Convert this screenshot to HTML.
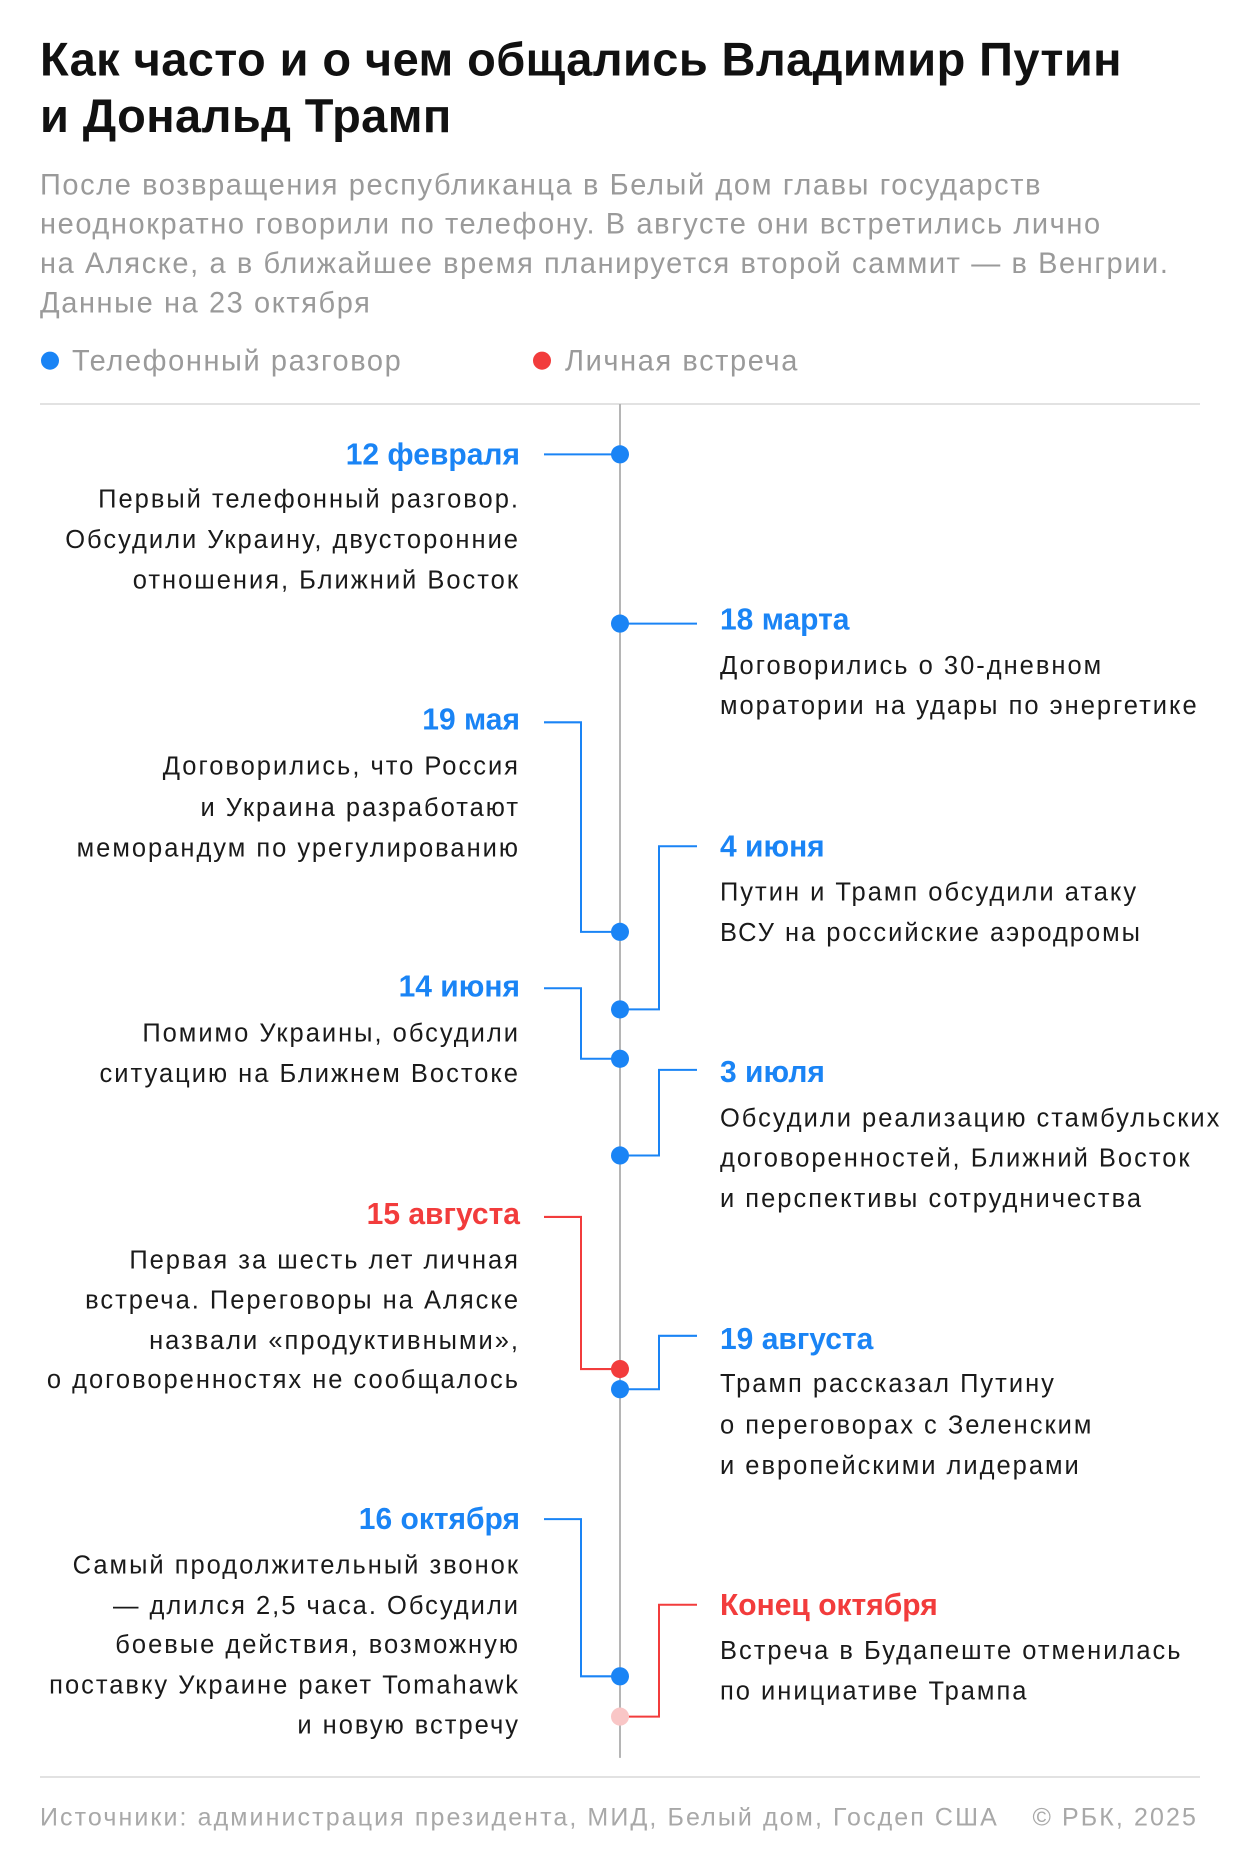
<!DOCTYPE html>
<html><head><meta charset="utf-8"><style>
html,body{margin:0;padding:0;background:#fff}
svg{display:block}
text{font-family:"Liberation Sans",sans-serif}
.t{font-size:47px;font-weight:bold;fill:#111;letter-spacing:0.4px}
.s{font-size:29px;fill:#9a9a9a;letter-spacing:1.6px}
.d{font-size:30px;font-weight:bold;fill:#1a84f5;letter-spacing:0px}
.r{fill:#f23c3c}
.b{font-size:25.5px;fill:#1a1a1a;letter-spacing:2px}
.f{font-size:25px;fill:#a8a8a8;letter-spacing:2.1px}
</style></head><body>
<svg width="1240" height="1866" viewBox="0 0 1240 1866" xmlns="http://www.w3.org/2000/svg">
<g transform="matrix(1 0 0 1.0074 0 0)">
<text class="t" x="40" y="75">Как часто и о чем общались Владимир Путин</text>
<text class="t" x="40" y="131">и Дональд Трамп</text>
<text class="s" x="40" y="193">После возвращения республиканца в Белый дом главы государств</text>
<text class="s" x="40" y="232">неоднократно говорили по телефону. В августе они встретились лично</text>
<text class="s" x="40" y="271">на Аляске, а в ближайшее время планируется второй саммит — в Венгрии.</text>
<text class="s" x="40" y="310">Данные на 23 октября</text>
<circle cx="50" cy="358" r="9" fill="#1a84f5"/>
<text class="s" x="72" y="368">Телефонный разговор</text>
<circle cx="542" cy="358" r="9" fill="#f23c3c"/>
<text class="s" x="565" y="368">Личная встреча</text>
<line x1="40" y1="401" x2="1200" y2="401" stroke="#e2e2e2" stroke-width="2"/>
<line x1="620" y1="401" x2="620" y2="1745" stroke="#b5b5b5" stroke-width="2"/>
<line x1="40" y1="1764" x2="1200" y2="1764" stroke="#e2e2e2" stroke-width="2"/>

<g fill="none" stroke-width="2">
<polyline stroke="#1a84f5" points="544,451 620,451"/>
<polyline stroke="#1a84f5" points="697,619 620,619"/>
<polyline stroke="#1a84f5" points="544,717 581,717 581,925 620,925"/>
<polyline stroke="#1a84f5" points="697,840 659,840 659,1002 620,1002"/>
<polyline stroke="#1a84f5" points="544,981 581,981 581,1051 620,1051"/>
<polyline stroke="#1a84f5" points="697,1062 659,1062 659,1147 620,1147"/>
<polyline stroke="#f23c3c" points="544,1208 581,1208 581,1359 620,1359"/>
<polyline stroke="#1a84f5" points="697,1326 659,1326 659,1379 620,1379"/>
<polyline stroke="#1a84f5" points="544,1508 581,1508 581,1664 620,1664"/>
<polyline stroke="#f23c3c" points="697,1593 659,1593 659,1704 620,1704"/>
</g>
<g fill="#1a84f5">
<circle cx="620" cy="451" r="9"/><circle cx="620" cy="619" r="9"/><circle cx="620" cy="925" r="9"/>
<circle cx="620" cy="1002" r="9"/><circle cx="620" cy="1051" r="9"/><circle cx="620" cy="1147" r="9"/>
<circle cx="620" cy="1379" r="9"/><circle cx="620" cy="1664" r="9"/>
</g>
<circle cx="620" cy="1359" r="9" fill="#f23c3c"/>
<circle cx="620" cy="1704" r="9" fill="#f9c6c6"/>

<g text-anchor="end">
<text class="d" x="520" y="461">12 февраля</text>
<text class="b" x="520" y="504">Первый телефонный разговор.</text>
<text class="b" x="520" y="544">Обсудили Украину, двусторонние</text>
<text class="b" x="520" y="584">отношения, Ближний Восток</text>

<text class="d" x="520" y="724">19 мая</text>
<text class="b" x="520" y="769">Договорились, что Россия</text>
<text class="b" x="520" y="810">и Украина разработают</text>
<text class="b" x="520" y="850">меморандум по урегулированию</text>

<text class="d" x="520" y="989">14 июня</text>
<text class="b" x="520" y="1034">Помимо Украины, обсудили</text>
<text class="b" x="520" y="1074">ситуацию на Ближнем Востоке</text>

<text class="d r" x="520" y="1215">15 августа</text>
<text class="b" x="520" y="1259">Первая за шесть лет личная</text>
<text class="b" x="520" y="1299">встреча. Переговоры на Аляске</text>
<text class="b" x="520" y="1339">назвали «продуктивными»,</text>
<text class="b" x="520" y="1378">о договоренностях не сообщалось</text>

<text class="d" x="520" y="1518">16 октября</text>
<text class="b" x="520" y="1562">Самый продолжительный звонок</text>
<text class="b" x="520" y="1602">— длился 2,5 часа. Обсудили</text>
<text class="b" x="520" y="1641">боевые действия, возможную</text>
<text class="b" x="520" y="1681">поставку Украине ракет Tomahawk</text>
<text class="b" x="520" y="1721">и новую встречу</text>
</g>

<text class="d" x="720" y="625">18 марта</text>
<text class="b" x="720" y="669">Договорились о 30-дневном</text>
<text class="b" x="720" y="709">моратории на удары по энергетике</text>

<text class="d" x="720" y="850">4 июня</text>
<text class="b" x="720" y="894">Путин и Трамп обсудили атаку</text>
<text class="b" x="720" y="934">ВСУ на российские аэродромы</text>

<text class="d" x="720" y="1074">3 июля</text>
<text class="b" x="720" y="1118">Обсудили реализацию стамбульских</text>
<text class="b" x="720" y="1158">договоренностей, Ближний Восток</text>
<text class="b" x="720" y="1198">и перспективы сотрудничества</text>

<text class="d" x="720" y="1339">19 августа</text>
<text class="b" x="720" y="1382">Трамп рассказал Путину</text>
<text class="b" x="720" y="1423">о переговорах с Зеленским</text>
<text class="b" x="720" y="1463">и европейскими лидерами</text>

<text class="d r" x="720" y="1603">Конец октября</text>
<text class="b" x="720" y="1647">Встреча в Будапеште отменилась</text>
<text class="b" x="720" y="1687">по инициативе Трампа</text>

<text class="f" x="40" y="1812">Источники: администрация президента, МИД, Белый дом, Госдеп США</text>
<text class="f" x="1198" y="1812" text-anchor="end">© РБК, 2025</text>
</g>
</svg>
</body></html>
